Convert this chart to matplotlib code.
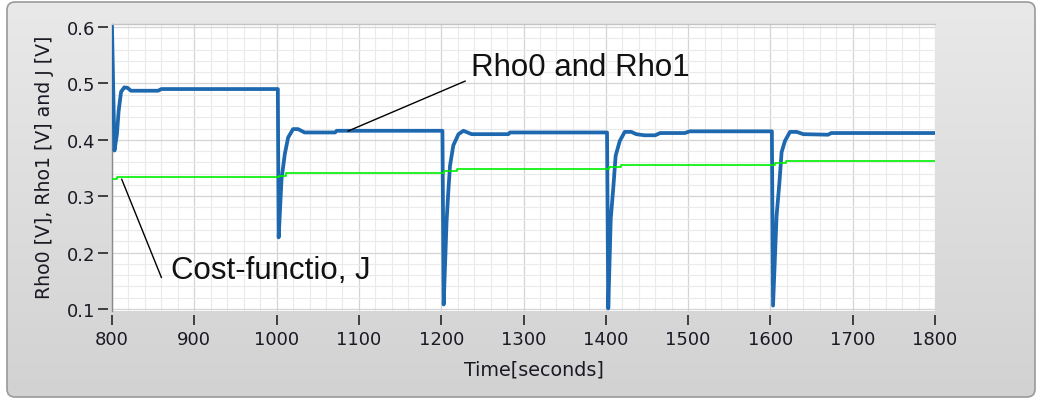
import numpy as np
import matplotlib
matplotlib.use('Agg')
import matplotlib.pyplot as plt
from matplotlib.patches import FancyBboxPatch
from matplotlib.colors import LinearSegmentedColormap
from matplotlib.ticker import MultipleLocator

# Rho0 / Rho1 response (seconds, volts)
rho_t = [800, 803, 806, 808, 811, 815, 819, 823, 856, 860, 1001.5,
         1002.5, 1006, 1010, 1014, 1020, 1026, 1034, 1071, 1073, 1201.5,
         1203, 1206.5, 1208.6, 1210.7, 1214.7, 1221, 1227, 1237, 1281.6, 1283.6, 1401.5,
         1403, 1406, 1409, 1412, 1417, 1423, 1431, 1437, 1447, 1460, 1466, 1496, 1502, 1601.8,
         1603.2, 1607.5, 1611, 1613.6, 1617.7, 1623.8, 1632, 1640, 1670, 1674, 1800]
rho_v = [0.600, 0.381, 0.41, 0.45, 0.485, 0.493, 0.492, 0.487, 0.487, 0.490, 0.490,
         0.227, 0.33, 0.375, 0.404, 0.419, 0.419, 0.413, 0.413, 0.416, 0.416,
         0.108, 0.254, 0.307, 0.354, 0.39, 0.41, 0.416, 0.41, 0.41, 0.413, 0.413,
         0.101, 0.26, 0.313, 0.372, 0.398, 0.414, 0.414, 0.41, 0.408, 0.408, 0.412, 0.412, 0.415, 0.415,
         0.106, 0.265, 0.325, 0.378, 0.398, 0.414, 0.414, 0.41, 0.409, 0.412, 0.412]

# cost function J (step changes)
j_t = [800, 806, 1003, 1012, 1203, 1219, 1404, 1419, 1605, 1619, 1800]
j_v = [0.330, 0.334, 0.336, 0.341, 0.344, 0.348, 0.351, 0.355, 0.359, 0.362, 0.362]

x_ticks = [800, 900, 1000, 1100, 1200, 1300, 1400, 1500, 1600, 1700, 1800]
y_ticks = [0.1, 0.2, 0.3, 0.4, 0.5, 0.6]

W, H = 1038, 402
fig = plt.figure(figsize=(W / 100, H / 100), dpi=100)
fig.patch.set_facecolor('white')

# grey rounded panel behind the graph
bg = fig.add_axes([0, 0, 1, 1], zorder=0)
grad = np.linspace(0, 1, 256).reshape(-1, 1)
cmap = LinearSegmentedColormap.from_list('panel', ['#e9e9e9', '#d2d2d2'])
im = bg.imshow(grad, extent=(7, 1035, 398, 3), cmap=cmap, aspect='auto')
frame = FancyBboxPatch((7, 3), 1028, 395, boxstyle='round,pad=0,rounding_size=8',
                       transform=bg.transData, fc='none', ec='#9a9a9a', lw=1.2)
bg.add_patch(frame)
im.set_clip_path(frame)
bg.set_xlim(0, W)
bg.set_ylim(H, 0)
bg.set_axis_off()

# plot area
ax = fig.add_axes([112 / W, 1 - 312 / H, 823 / W, 287 / H], zorder=1)
ax.set_facecolor('white')
ax.set_xlim(800, 1800)
ax.set_ylim(0.1 - 2 / 564, 0.1 + 285 / 564)

ax.xaxis.set_minor_locator(MultipleLocator(20))
ax.yaxis.set_minor_locator(MultipleLocator(0.02))
ax.set_xticks(x_ticks)
ax.set_yticks(y_ticks)
ax.set_yticklabels(['%.1f' % v for v in y_ticks])
ax.grid(which='minor', color='#eaeaea', lw=0.8)
ax.grid(which='major', color='#d4d4d4', lw=0.9)
ax.set_axisbelow(True)

for side in ['left', 'bottom']:
    ax.spines[side].set_position(('outward', 3))
    ax.spines[side].set_visible(False)
for side in ['top', 'right']:
    ax.spines[side].set_visible(False)
ax.plot([0, 0], [0, 1], transform=ax.transAxes, color='#8a8a8a', lw=1, clip_on=False)
ax.plot([0, 1], [1, 1], transform=ax.transAxes, color='#c4c4c4', lw=1, clip_on=False)

ax.tick_params(which='major', direction='out', length=7.5, width=1.3, color='#333333',
               labelsize=13, labelcolor='#1a1a24')
ax.tick_params(axis='y', pad=1.5)
ax.tick_params(axis='x', pad=3)
ax.tick_params(which='minor', length=0)

ax.plot(rho_t, rho_v, color='#1d68ae', lw=2.7, solid_joinstyle='round')
ax.plot(j_t, j_v, color='#00f000', lw=1.2, drawstyle='steps-post')

# callouts
ax.plot([1087, 1229], [0.4156, 0.504], color='black', lw=1)
ax.text(1236, 0.515, 'Rho0 and Rho1', fontsize=22.5, family='Liberation Sans',
        color='#111111', va='baseline', ha='left')
ax.plot([811.8, 860], [0.33, 0.156], color='black', lw=1)
ax.text(872, 0.155, 'Cost-functio, J', fontsize=22.5, family='Liberation Sans',
        color='#111111', va='baseline', ha='left')

fig.text(45 / W, 1 - 167 / H, 'Rho0 [V], Rho1 [V] and J [V]', rotation=90,
         fontsize=13.6, color='#1a1a24', ha='center', va='center')
fig.text(534 / W, 1 - 370 / H, 'Time[seconds]', fontsize=13.8, color='#1a1a24',
         ha='center', va='center')

fig.savefig('out.png', dpi=100)
